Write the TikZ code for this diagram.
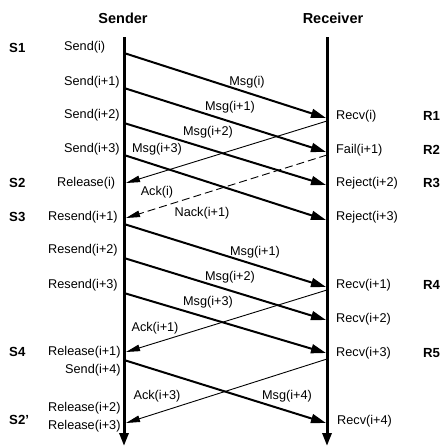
\documentclass[tikz,border=0pt]{standalone}
\usepackage{fontspec}
\setmainfont{Liberation Sans}
\usetikzlibrary{arrows.meta}
\begin{document}
\begin{tikzpicture}[x=1pt,y=-1pt,
  lbl/.style={inner sep=0pt,font=\fontsize{12.7}{14}\selectfont},
  lbll/.style={lbl,anchor=west},
  tag/.style={inner sep=0pt,anchor=west,font=\fontsize{13.2}{15}\selectfont\bfseries},
  head/.style={inner sep=0pt,font=\fontsize{14.5}{17}\selectfont\bfseries},
  life/.style={line width=3pt,-{Triangle[length=13pt,width=9pt]}},
  msg/.style={line width=2pt,-{Triangle[length=15pt,width=9pt]}},
  ack/.style={line width=0.9pt,-{Triangle[length=14pt,width=6.5pt]}},
  nack/.style={ack,dash pattern=on 8pt off 4pt}]
\useasboundingbox[fill=white] (0,0) rectangle (442,447);

% headers
\node[head] (hs) at (123,18) {Sender};
\node[head] (hr) at (333,18) {Receiver};

% lifelines
\coordinate (st) at (124,37);
\coordinate (sb) at (124,446);
\coordinate (rt) at (327,37);
\coordinate (rb) at (327,446);
\draw[life] (st) -- (sb);
\draw[life] (rt) -- (rb);

% sender side points
\coordinate (s1) at (124,53);
\coordinate (s2) at (124,88);
\coordinate (s3) at (124,123);
\coordinate (s4) at (124,155);
\coordinate (s5) at (126,183);
\coordinate (s6) at (126,218);
\coordinate (s7) at (124,224);
\coordinate (s8) at (124,258);
\coordinate (s9) at (124,293);
\coordinate (s10) at (126,352);
\coordinate (s11) at (124,360);
\coordinate (s12) at (126,423);
% receiver side points
\coordinate (r1) at (326,118);
\coordinate (r1b) at (327,121);
\coordinate (r2) at (326,152);
\coordinate (r2b) at (327,155);
\coordinate (r3) at (326,185);
\coordinate (r4) at (326,220);
\coordinate (r5) at (326,287);
\coordinate (r5b) at (327,290);
\coordinate (r6) at (326,320);
\coordinate (r7) at (326,353);
\coordinate (r7b) at (327,359);
\coordinate (r8) at (326,423);

% messages
\draw[msg] (s1) -- (r1);
\draw[msg] (s2) -- (r2);
\draw[msg] (s3) -- (r3);
\draw[msg] (s4) -- (r4);
\draw[ack] (r1b) -- (s5);
\draw[nack] (r2b) -- (s6);
\draw[msg] (s7) -- (r5);
\draw[msg] (s8) -- (r6);
\draw[msg] (s9) -- (r7);
\draw[ack] (r5b) -- (s10);
\draw[msg] (s11) -- (r8);
\draw[ack] (r7b) -- (s12);

% message labels
\node[lbl] (lm1) at (247,82) {Msg(i)};
\node[lbl] (lm2) at (230,107) {Msg(i+1)};
\node[lbl] (lm3) at (208,132) {Msg(i+2)};
\node[lbl] (lm4) at (157,149) {Msg(i+3)};
\node[lbl] (la1) at (157,192) {Ack(i)};
\node[lbl] (ln1) at (202,213) {Nack(i+1)};
\node[lbl] (lm5) at (255,252) {Msg(i+1)};
\node[lbl] (lm6) at (230,277) {Msg(i+2)};
\node[lbl] (lm7) at (208,302) {Msg(i+3)};
\node[lbl] (la2) at (155,328) {Ack(i+1)};
\node[lbl] (la3) at (157,396) {Ack(i+3)};
\node[lbl] (lm8) at (287,396) {Msg(i+4)};

% sender labels
\node[lbll] (e1) at (64,47) {Send(i)};
\node[lbll] (e2) at (64,82) {Send(i+1)};
\node[lbll] (e3) at (64,115) {Send(i+2)};
\node[lbll] (e4) at (64,149) {Send(i+3)};
\node[lbll] (e5) at (57,183) {Release(i)};
\node[lbll] (e6) at (48,217) {Resend(i+1)};
\node[lbll] (e7) at (48,250) {Resend(i+2)};
\node[lbll] (e8) at (48,285) {Resend(i+3)};
\node[lbll] (e9) at (48,352) {Release(i+1)};
\node[lbll] (e10) at (65,370) {Send(i+4)};
\node[lbll] (e11) at (48,408) {Release(i+2)};
\node[lbll] (e12) at (48,426) {Release(i+3)};

% receiver labels
\node[lbll] (v1) at (336,116) {Recv(i)};
\node[lbll] (v2) at (336,150) {Fail(i+1)};
\node[lbll] (v3) at (336,183) {Reject(i+2)};
\node[lbll] (v4) at (336,217) {Reject(i+3)};
\node[lbll] (v5) at (336,285) {Recv(i+1)};
\node[lbll] (v6) at (336,319) {Recv(i+2)};
\node[lbll] (v7) at (336,353) {Recv(i+3)};
\node[lbll] (v8) at (337,421) {Recv(i+4)};

% state tags
\node[tag] (t1) at (9,48) {S1};
\node[tag] (t2) at (9,183) {S2};
\node[tag] (t3) at (9,217) {S3};
\node[tag] (t4) at (9,352) {S4};
\node[tag] (t5) at (9,420) {S2’};
\node[tag] (u1) at (423,116) {R1};
\node[tag] (u2) at (423,150) {R2};
\node[tag] (u3) at (423,183) {R3};
\node[tag] (u4) at (423,285) {R4};
\node[tag] (u5) at (423,353) {R5};
\end{tikzpicture}
\end{document}
